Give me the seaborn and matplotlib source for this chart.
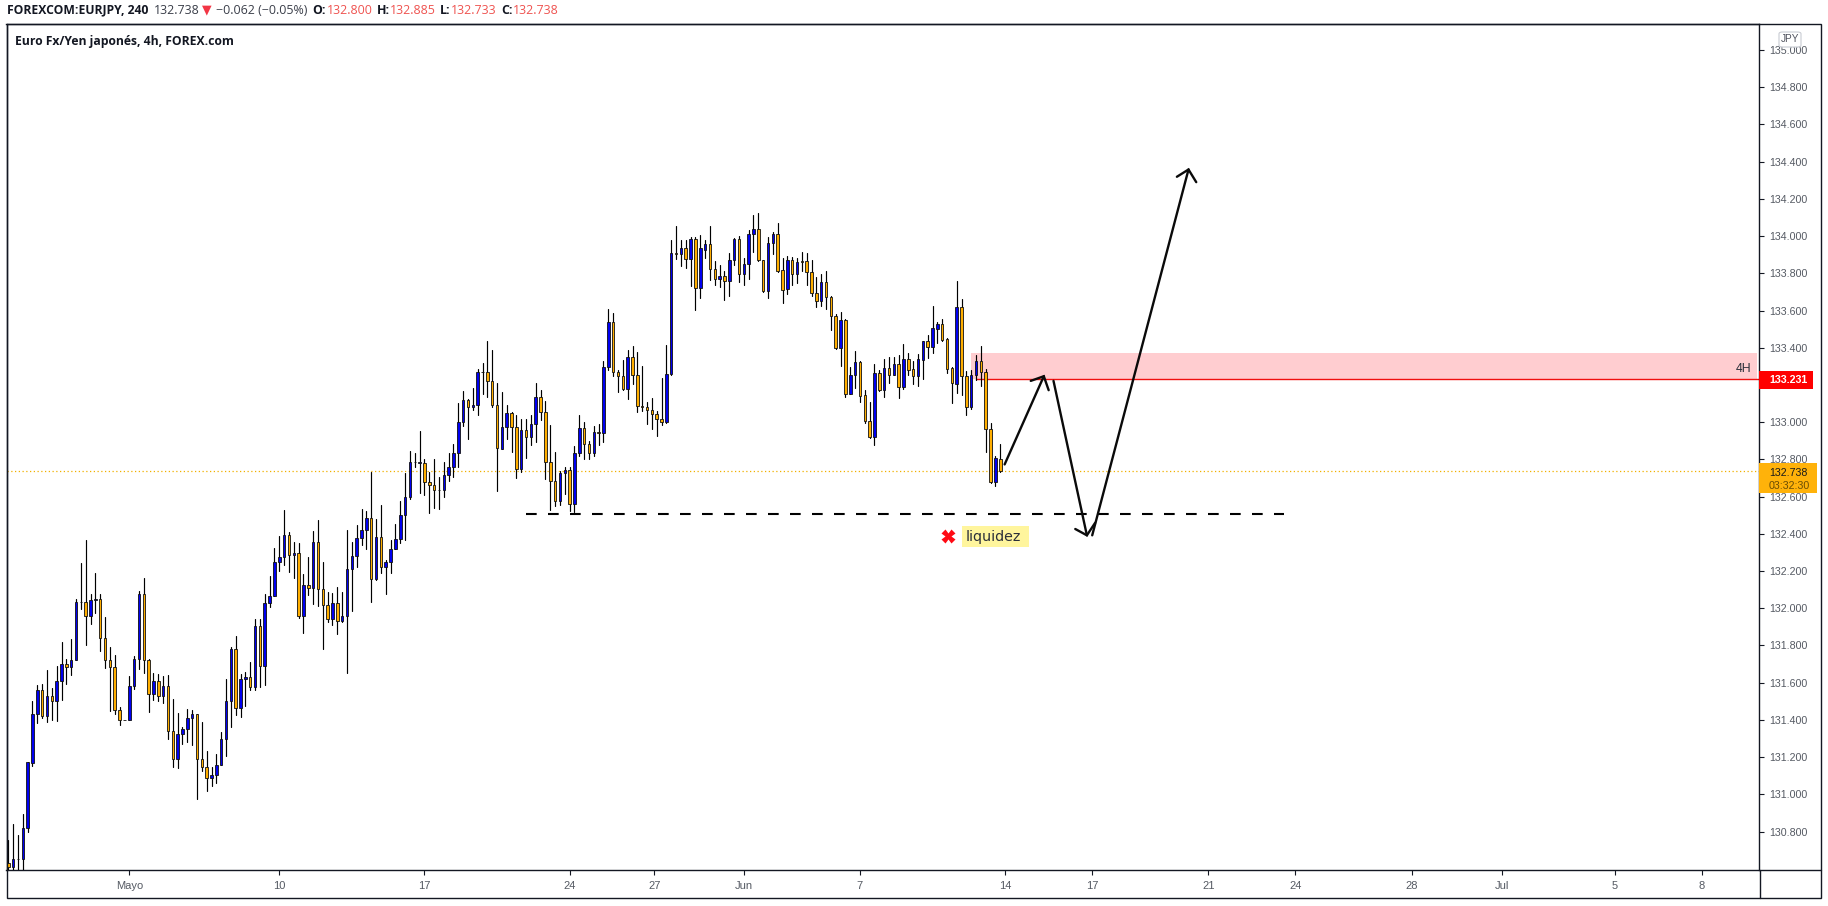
import pandas as pd
import seaborn as sns
import matplotlib
matplotlib.use("Agg")
import matplotlib.pyplot as plt
from matplotlib.patches import Rectangle, FancyBboxPatch

# candles
opens = [130.631,130.609,130.654,130.652,130.819,131.170,131.432,131.562,131.421,131.530,
    131.501,131.611,131.702,131.684,131.722,132.035,132.035,131.958,132.044,132.052,
    131.842,131.724,131.686,131.455,131.401,131.399,131.582,131.729,132.078,131.724,
    131.539,131.611,131.528,131.584,131.342,131.191,131.326,131.353,131.412,131.433,
    131.191,131.148,131.089,131.105,131.159,131.299,131.503,131.783,131.466,131.621,
    131.632,131.578,131.906,131.690,132.030,132.068,132.249,132.277,132.396,132.286,
    132.299,131.958,132.127,132.111,132.358,132.105,132.019,131.944,132.030,131.932,
    131.958,132.213,132.281,132.378,132.423,132.487,132.157,132.385,132.224,132.249,
    132.320,132.374,132.503,132.600,132.786,132.781,132.783,132.681,132.665,132.638,
    132.638,132.716,132.759,132.835,133.003,133.121,133.082,133.093,133.272,133.272,
    133.224,133.095,132.858,132.976,133.052,132.976,132.749,132.960,132.921,132.991,
    133.138,133.057,132.788,132.686,132.579,132.729,132.745,132.562,132.835,132.971,
    132.885,132.837,132.949,132.942,133.299,133.541,133.272,133.250,133.179,133.353,
    133.256,133.089,133.084,133.068,133.046,133.019,133.000,133.259,133.907,133.905,
    133.934,133.879,133.983,133.719,133.927,133.956,133.821,133.771,133.784,133.760,
    133.870,133.983,133.798,133.848,134.009,134.036,133.870,133.707,133.961,134.009,
    133.816,133.714,133.870,133.798,133.864,133.864,133.805,133.696,133.653,133.751,
    133.671,133.569,133.397,133.547,133.153,133.251,133.321,133.144,133.009,132.920,
    133.262,133.173,133.289,133.255,133.311,133.190,133.337,133.284,133.250,133.336,
    133.434,133.406,133.502,133.526,133.445,133.289,133.207,133.617,133.246,133.079,
    133.251,133.327,133.268,132.966,132.680,132.800]
closes = [130.609,130.654,130.652,130.820,131.172,131.433,131.562,131.421,131.530,131.501,
    131.611,131.702,131.684,131.724,132.035,132.034,131.958,132.046,132.052,131.842,
    131.724,131.686,131.455,131.401,131.401,131.584,131.729,132.078,131.724,131.541,
    131.611,131.528,131.584,131.342,131.191,131.326,131.353,131.412,131.433,131.191,
    131.148,131.089,131.105,131.159,131.299,131.503,131.783,131.466,131.620,131.632,
    131.578,131.906,131.691,132.030,132.068,132.250,132.277,132.396,132.288,132.299,
    131.958,132.127,132.111,132.358,132.105,132.018,131.944,132.030,131.932,131.960,
    132.213,132.283,132.379,132.423,132.487,132.159,132.385,132.224,132.250,132.320,
    132.374,132.503,132.600,132.788,132.785,132.786,132.679,132.665,132.638,132.636,
    132.718,132.761,132.837,133.003,133.121,133.082,133.095,133.272,133.270,133.222,
    133.093,132.863,132.976,133.052,132.975,132.751,132.960,132.921,132.992,133.138,
    133.057,132.786,132.686,132.579,132.729,132.745,132.562,132.837,132.971,132.885,
    132.837,132.949,132.944,133.299,133.541,133.272,133.249,133.179,133.353,133.256,
    133.089,133.084,133.068,133.044,133.019,133.001,133.261,133.907,133.905,133.934,
    133.879,133.983,133.719,133.934,133.956,133.821,133.771,133.784,133.760,133.870,
    133.983,133.798,133.848,134.009,134.036,133.870,133.705,133.961,134.009,133.814,
    133.712,133.870,133.798,133.859,133.859,133.805,133.696,133.653,133.751,133.671,
    133.569,133.397,133.547,133.153,133.251,133.321,133.142,133.009,132.920,133.262,
    133.173,133.289,133.255,133.311,133.190,133.337,133.282,133.250,133.337,133.434,
    133.406,133.504,133.526,133.440,133.287,133.208,133.617,133.246,133.079,133.251,
    133.327,133.268,132.966,132.680,132.805,132.738]
highs = [130.756,130.838,130.779,130.892,131.175,131.500,131.586,131.591,131.666,131.570,
    131.688,131.817,131.729,131.833,132.052,132.242,132.365,132.075,132.188,132.075,
    131.951,131.790,131.747,131.469,131.401,131.634,131.742,132.091,132.161,131.725,
    131.654,131.645,131.634,131.639,131.510,131.435,131.363,131.457,131.451,131.433,
    131.387,131.231,131.145,131.215,131.333,131.618,131.794,131.849,131.648,131.656,
    131.709,131.940,131.940,132.078,132.172,132.322,132.387,132.526,132.408,132.356,
    132.353,132.182,132.274,132.414,132.473,132.247,132.086,132.080,132.112,132.086,
    132.419,132.354,132.446,132.535,132.521,132.733,132.478,132.553,132.261,132.365,
    132.451,132.578,132.725,132.844,132.833,132.951,132.801,132.731,132.801,132.704,
    132.785,132.837,132.881,133.102,133.170,133.123,133.182,133.288,133.320,133.435,
    133.387,133.209,133.161,133.091,133.057,133.041,133.019,133.016,133.037,133.209,
    133.172,133.116,132.983,132.838,132.736,132.761,132.761,132.871,133.041,133.003,
    132.897,132.982,132.992,133.328,133.607,133.586,133.279,133.333,133.387,133.408,
    133.376,133.301,133.111,133.129,133.059,133.236,133.414,133.979,134.054,133.979,
    133.979,133.995,133.995,134.006,133.979,134.054,133.866,133.845,133.812,133.909,
    133.990,134.000,133.880,134.033,134.113,134.124,133.870,133.995,134.020,134.070,
    133.880,133.893,133.886,133.880,133.914,133.909,133.870,133.778,133.796,133.812,
    133.676,133.579,133.590,133.552,133.294,133.382,133.327,133.173,133.108,133.312,
    133.278,133.339,133.348,133.348,133.361,133.418,133.370,133.327,133.366,133.436,
    133.468,133.622,133.538,133.554,133.450,133.294,133.759,133.662,133.273,133.280,
    133.361,133.409,133.285,132.993,132.816,132.885]
lows = [130.590,130.582,130.582,130.582,130.795,131.150,131.383,131.408,131.389,131.397,
    131.394,131.509,131.591,131.639,131.722,131.996,131.801,131.914,131.973,131.768,
    131.679,131.448,131.430,131.372,131.401,131.399,131.566,131.672,131.650,131.440,
    131.507,131.500,131.489,131.295,131.145,131.139,131.270,131.279,131.263,130.973,
    131.123,131.018,131.044,131.059,131.156,131.206,131.360,131.424,131.414,131.473,
    131.561,131.561,131.575,131.586,132.005,132.066,132.199,132.231,132.193,132.161,
    131.946,131.865,132.069,132.021,132.014,131.779,131.924,131.910,131.860,131.924,
    131.650,131.983,132.220,132.338,132.317,132.032,132.150,132.188,132.075,132.188,
    132.317,132.349,132.367,132.587,132.758,132.618,132.609,132.512,132.537,132.532,
    132.596,132.682,132.706,132.758,132.978,132.908,133.066,133.037,133.150,133.134,
    133.080,132.629,132.854,132.908,132.842,132.699,132.734,132.806,132.876,132.896,
    133.010,132.693,132.527,132.548,132.553,132.613,132.523,132.516,132.817,132.801,
    132.801,132.817,132.876,132.892,133.279,133.247,133.161,133.172,133.123,133.204,
    133.053,133.059,132.989,132.966,132.924,132.987,132.994,133.253,133.875,133.839,
    133.828,133.732,133.603,133.667,133.880,133.764,133.737,133.726,133.656,133.678,
    133.845,133.753,133.737,133.769,133.914,133.866,133.699,133.667,133.904,133.809,
    133.640,133.689,133.737,133.746,133.811,133.737,133.678,133.621,133.624,133.608,
    133.495,133.393,133.302,133.135,133.151,133.182,133.108,132.995,132.915,132.877,
    133.165,133.135,133.208,133.253,133.130,133.178,133.253,133.205,133.194,133.232,
    133.345,133.371,133.425,133.434,133.262,133.103,133.155,133.146,133.038,133.069,
    133.226,133.194,132.839,132.674,132.658,132.733]

# time axis, positions are bar numbers
date_ticks = [25, 56, 86, 116, 133.5, 152, 176, 206, 224, 248, 266, 290, 308.6, 332, 350]
date_labels = ["Mayo", "10", "17", "24", "27", "Jun", "7", "14", "17", "21", "24", "28", "Jul", "5", "8"]
price_ticks = [130.8, 131.0, 131.2, 131.4, 131.6, 131.8, 132.0, 132.2, 132.4, 132.6, 132.8,
    133.0, 133.2, 133.4, 133.6, 133.8, 134.0, 134.2, 134.4, 134.6, 134.8, 135.0]

last_price = 132.738
zone_low = 133.231
zone_high = 133.371
liquidity_level = 132.507

# hand drawn arrows: [(bar, price), ...]
arrow_up_short = [(205.9, 132.773), (214.0, 133.247)]
arrow_up_short_head = [(211.3, 133.222), (214.0, 133.247), (215.0, 133.172)]
arrow_down = [(216.0, 133.222), (222.9, 132.392)]
arrow_down_head = [(220.5, 132.426), (222.9, 132.392), (224.6, 132.459)]
arrow_up_long = [(224.0, 132.392), (243.9, 134.358)]
arrow_up_long_head = [(241.5, 134.319), (243.9, 134.358), (245.5, 134.290)]

BLUE = "#0000f0"
ORANGE = "#ffae00"
INK = "#131722"
GREY = "#555a63"
RED_TEXT = "#ef5350"

sns.set_theme(style="white")
plt.rcParams["font.family"] = ["Liberation Sans", "DejaVu Sans"]

W, H = 1828, 906
fig = plt.figure(figsize=(W / 100, H / 100), dpi=100, facecolor="white")
ax = fig.add_axes([6.5 / W, 1 - 869.5 / H, (1759.5 - 6.5) / W, (869.5 - 24) / H])


def fx(px):
    return px / W


def fy(py):
    return 1 - py / H


df = pd.DataFrame({"open": opens, "high": highs, "low": lows, "close": closes})
df["bar"] = df.index
df["color"] = [BLUE if c > o else ORANGE for o, c in zip(opens, closes)]

# pink 4H zone and level line go under the candles
start_zone = 198.9
ax.add_patch(Rectangle((start_zone, zone_low), 361.3 - start_zone, zone_high - zone_low,
                       facecolor="#ffcdd0", edgecolor="none", zorder=1))
ax.plot([200, 362], [zone_low, zone_low], color="#f01010", lw=1.0, zorder=2)
ax.axhline(last_price, color="#f0b000", lw=0.9, ls=(0, (1, 2)), zorder=2)

# wicks
wicks = df.melt(id_vars="bar", value_vars=["low", "high"], value_name="price")
sns.lineplot(data=wicks, x="bar", y="price", units="bar", estimator=None, color="black",
             lw=0.85, legend=False, ax=ax, zorder=3)

# bodies
body_bottom = df[["open", "close"]].min(axis=1)
body_height = (df["open"] - df["close"]).abs()
ax.bar(df["bar"], body_height, bottom=body_bottom, width=0.52, color=df["color"],
       edgecolor="#101010", linewidth=0.6, zorder=4)

# dashed liquidity line
ax.plot([107.0, 263.6], [liquidity_level, liquidity_level], color="black", lw=1.5,
        ls=(0, (5.13, 5.43)), dash_capstyle="butt", zorder=5)

# arrows
for pts in [arrow_up_short, arrow_up_short_head, arrow_down, arrow_down_head, arrow_up_long, arrow_up_long_head]:
    ax.plot([p[0] for p in pts], [p[1] for p in pts], color="#0a0a0a", lw=1.7,
            solid_joinstyle="miter", zorder=6)

# liquidez label
ax.plot([194.2], [132.387], marker="X", ms=10, color="#ff0a14", mec="none", zorder=6)
fig.add_artist(Rectangle((fx(962), fy(547)), 67 / W, 21 / H, transform=fig.transFigure,
                         facecolor="#fff59d", edgecolor="none", zorder=5))
fig.text(fx(966), fy(536.5), "liquidez", fontsize=10.3, family="DejaVu Sans", color="#2a2e39",
         va="center", ha="left", zorder=6)

ax.text(360.3, 133.285, "4H", fontsize=8.8, color="#2a2e39", ha="right", va="center", zorder=7)

ax.set_xlim(-0.37, 361.9)
ax.set_ylim(130.596, 135.14)
ax.set_xlabel("")
ax.set_ylabel("")
ax.set_xticks(date_ticks)
ax.set_xticklabels(date_labels)
ax.set_yticks(price_ticks)
ax.set_yticklabels([f"{p:.3f}" for p in price_ticks])
ax.yaxis.tick_right()
ax.tick_params(axis="x", length=3.5, width=0.8, color=INK, labelsize=8, labelcolor=GREY, pad=5, bottom=True)
ax.tick_params(axis="y", length=3.5, width=0.8, color=INK, labelsize=7.7, labelcolor=GREY, pad=3.5, right=True)
for side in ax.spines.values():
    side.set_color(INK)
    side.set_linewidth(1.0)

# outer frame around price and time scales
fig.add_artist(Rectangle((fx(6.5), fy(898)), (1821 - 6.5) / W, (898 - 24) / H, transform=fig.transFigure,
                         facecolor="none", edgecolor=INK, lw=1.0))
fig.add_artist(plt.Line2D([fx(1759.5), fx(1821)], [fy(869.5), fy(869.5)], color=INK, lw=1.0))
fig.add_artist(plt.Line2D([fx(1759.5), fx(1759.5)], [fy(869.5), fy(898)], color=INK, lw=1.0))

# price tags on the scale
fig.add_artist(Rectangle((fx(1759), fy(389)), 54 / W, 18 / H, transform=fig.transFigure,
                         facecolor="#ff0000", edgecolor="none", zorder=8))
fig.text(fx(1769), fy(380), "133.231", fontsize=7.7, fontweight="bold", color="white", va="center", zorder=9)
fig.add_artist(Rectangle((fx(1759), fy(493.5)), 58 / W, 30.5 / H, transform=fig.transFigure,
                         facecolor="#ffb20a", edgecolor="none", zorder=8))
fig.text(fx(1769), fy(472.5), "132.738", fontsize=7.7, color="#1a1a1a", va="center", zorder=9)
fig.text(fx(1769), fy(486), "03:32:30", fontsize=7.7, color="#6a4d05", va="center", zorder=9)

# currency button
fig.add_artist(FancyBboxPatch((fx(1779), fy(47)), 22 / W, 15 / H, transform=fig.transFigure,
                              boxstyle="round,pad=0,rounding_size=0.002", facecolor="white",
                              edgecolor="#c9ccd3", lw=0.8, zorder=8))
fig.text(fx(1790), fy(39.5), "JPY", fontsize=7.2, color="#50535e", ha="center", va="center", zorder=9)

# header
head_font = "Open Sans"
header = [
    (7, "FOREXCOM:EURJPY, 240", INK, "bold", 8.7),
    (154, "132.738", "#3a3e49", "normal", 8.9),
    (216, "\u22120.062 (\u22120.05%)", "#3a3e49", "normal", 8.9),
    (312, "O:", INK, "bold", 8.9),
    (327, "132.800", RED_TEXT, "normal", 8.9),
    (377, "H:", INK, "bold", 8.9),
    (390, "132.885", RED_TEXT, "normal", 8.9),
    (440, "L:", INK, "bold", 8.9),
    (451, "132.733", RED_TEXT, "normal", 8.9),
    (501.5, "C:", INK, "bold", 8.9),
    (513, "132.738", RED_TEXT, "normal", 8.9),
]
for px, txt, col, wt, size in header:
    fig.text(fx(px), fy(10), txt, fontsize=size, family=head_font, color=col, fontweight=wt, va="center")
fig.text(fx(207), fy(10), "\u25bc", fontsize=9, family="DejaVu Sans", color="#f23645", ha="center", va="center")
fig.text(fx(15), fy(41.5), "Euro Fx/Yen japon\u00e9s, 4h, FOREX.com", fontsize=8.7, family=head_font,
         color=INK, fontweight="bold", va="center")

fig.savefig("out.png", dpi=100, facecolor="white")
